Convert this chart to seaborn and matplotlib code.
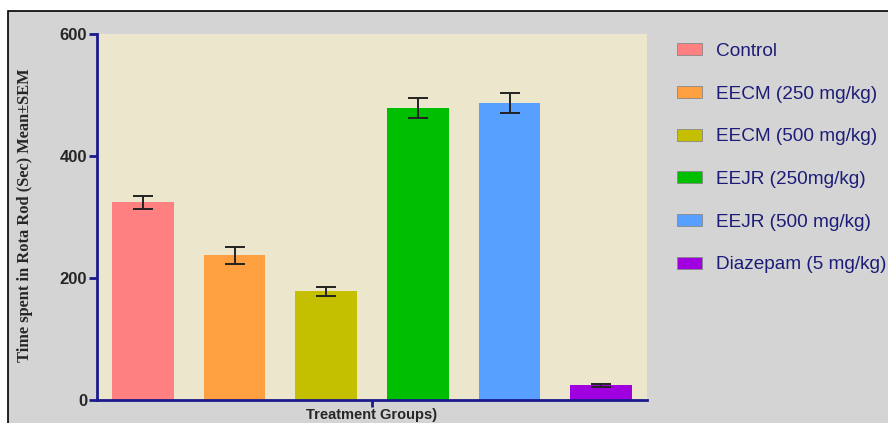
import matplotlib
matplotlib.use('Agg')
import matplotlib.pyplot as plt
from matplotlib.patches import Rectangle
import seaborn as sns
import pandas as pd

groups = ['Control', 'EECM (250 mg/kg)', 'EECM (500 mg/kg)', 'EEJR (250mg/kg)',
          'EEJR (500 mg/kg)', 'Diazepam (5 mg/kg)']
means = [324, 237, 178, 479, 487, 24]
sems = [11, 14, 8, 16, 17, 3]
colors = ['#ff8080', '#ffa040', '#c4c000', '#00bf00', '#58a0ff', '#a000e0']

if __name__ == '__main__':
    df = pd.DataFrame({'group': groups, 'mean': means, 'sem': sems})

    sns.set_style('white')
    plt.rcParams['font.family'] = ['Liberation Sans', 'DejaVu Sans']

    fig = plt.figure(figsize=(8.88, 4.23), dpi=100, facecolor='white')
    # grey screenshot panel with black border
    fig.add_artist(Rectangle((8 / 888, -0.1), 1.2, 1.1 - 11 / 423,
                             transform=fig.transFigure, facecolor='#d4d4d4',
                             edgecolor='black', linewidth=1.2, zorder=-10))

    ax = fig.add_axes([97 / 888, 1 - 400 / 423, 550 / 888, 366 / 423])
    ax.set_facecolor('#ece6cd')

    sns.barplot(data=df, x='group', y='mean', hue='group', palette=colors,
                width=0.67, saturation=1, linewidth=0, legend=True, ax=ax)
    ax.errorbar(x=range(len(groups)), y=df['mean'], yerr=df['sem'], fmt='none',
                ecolor='#222222', elinewidth=1.4, capsize=7.5, capthick=1.4)

    handles, labels = ax.get_legend_handles_labels()
    ax.get_legend().remove()
    for h in handles:
        h.set_edgecolor('#888888')
        h.set_linewidth(0.6)
    fig.legend(handles, labels, loc='upper left',
               bbox_to_anchor=(677 / 888, 1 - 43 / 423), frameon=False,
               fontsize=13.7, labelcolor='#1c1c78', handlelength=1.32,
               handleheight=0.58, handletextpad=0.72, labelspacing=1.35,
               borderpad=0, borderaxespad=0)

    ax.set_xlim(-0.5, 5.5)
    ax.set_ylim(0, 600)
    ax.set_yticks([0, 200, 400, 600])
    ax.set_xticks([2.5])
    ax.set_xticklabels([''])
    ax.tick_params(axis='y', length=6, width=2, color='#1a1a8c', pad=1,
                   labelsize=12, left=True, direction='out')
    ax.tick_params(axis='x', length=5, width=2, color='#1a1a8c', bottom=True,
                   direction='out')
    for lab in ax.get_yticklabels():
        lab.set_fontweight('bold')
    for side in ['top', 'right']:
        ax.spines[side].set_visible(False)
    for side in ['left', 'bottom']:
        ax.spines[side].set_color('#1a1a8c')
        ax.spines[side].set_linewidth(2)

    ax.set_xlabel('')
    ax.set_ylabel('')
    fig.text(25 / 888, 1 - 215 / 423, 'Time spent in Rota Rod (Sec) Mean\u00b1SEM',
             rotation=90, ha='center', va='center', fontsize=11.8,
             fontweight='bold', family=['Liberation Serif', 'DejaVu Serif'])
    fig.text(372 / 888, 1 - 415 / 423, 'Treatment Groups)', ha='center',
             va='center', fontsize=10.5, fontweight='bold')

    fig.savefig('out.png', dpi=100, facecolor='white')
